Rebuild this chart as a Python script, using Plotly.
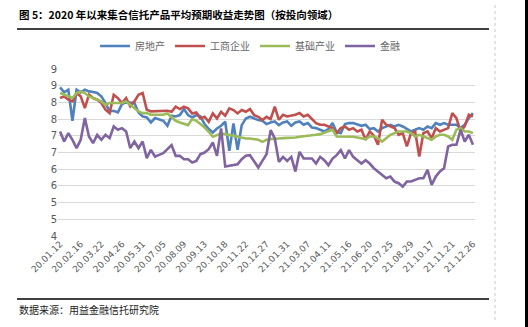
import plotly.graph_objects as go

# ---------------- data ----------------
x_tick_labels = ["20.01.12", "20.02.16", "20.03.22", "20.04.26", "20.05.31", "20.07.05",
                 "20.08.09", "20.09.13", "20.10.18", "20.11.22", "20.12.27", "21.01.31",
                 "21.03.07", "21.04.11", "21.05.16", "21.06.20", "21.07.25", "21.08.29",
                 "21.10.17", "21.11.21", "21.12.26"]
y_tick_values = [4.0, 4.5, 5.0, 5.5, 6.0, 6.5, 7.0, 7.5, 8.0, 8.5, 9.0]
y_tick_labels = ["4", "5", "5", "6", "6", "7", "7", "8", "8", "9", "9"]

real_estate = [8.45, 8.30, 8.38, 7.45, 8.38, 8.30, 8.38, 8.33, 8.31, 8.28,
               8.18, 7.98, 7.73, 7.75, 7.70, 7.95, 8.00, 7.98, 7.98, 7.70,
               7.58, 7.55, 7.40, 7.53, 7.48, 7.45, 7.30, 7.60, 7.58, 7.62,
               7.80, 7.62, 7.55, 7.62, 7.58, 7.35, 7.20, 7.10, 7.22, 7.30,
               7.42, 6.55, 7.37, 6.58, 7.32, 7.52, 7.57, 7.52, 7.47, 7.45,
               7.35, 7.40, 7.43, 7.32, 7.40, 7.43, 7.30, 7.40, 7.43, 7.33,
               7.38, 7.25, 7.23, 7.18, 7.13, 7.20, 7.38, 7.10, 7.08, 7.35,
               7.38, 7.38, 7.33, 7.30, 7.33, 7.20, 7.23, 7.13, 7.23, 7.28,
               7.33, 7.28, 7.33, 7.28, 7.20, 7.13, 7.18, 7.23, 7.18, 7.28,
               7.23, 7.38, 7.33, 7.38, 7.33, 7.33, 7.33, 7.23, 7.33, 7.53,
               7.68]
industry = [8.13, 8.18, 8.08, 8.03, 8.28, 8.18, 7.83, 8.23, 8.13, 8.08,
            7.98, 7.78, 7.68, 8.23, 8.13, 7.98, 8.13, 7.88, 8.03, 8.23,
            8.28, 7.78, 7.73, 7.73, 7.73, 7.73, 7.75, 7.72, 7.87, 7.80,
            7.87, 7.82, 7.67, 7.70, 7.52, 7.57, 7.42, 7.67, 7.52, 7.72,
            7.60, 7.82, 7.77, 7.67, 7.77, 7.72, 7.80, 7.62, 7.57, 7.47,
            7.57, 7.50, 7.87, 7.48, 7.63, 7.58, 7.60, 7.63, 7.68, 7.58,
            7.63, 7.50, 7.38, 7.33, 7.33, 7.28, 7.23, 7.08, 7.23, 7.28,
            7.18, 7.23, 7.13, 7.18, 6.88, 7.13, 7.00, 6.73, 7.48, 7.33,
            7.28, 7.23, 7.03, 7.08, 6.68, 7.08, 7.13, 6.38, 7.08, 7.13,
            6.93, 7.23, 7.13, 7.18, 7.23, 7.68, 7.53, 7.13, 7.28, 7.63,
            7.58]
infrastructure = [8.28, 8.23, 8.18, 8.13, 8.28, 8.33, 8.28, 8.18, 8.13, 8.08,
                  8.03, 7.93, 7.98, 7.98, 7.98, 7.98, 8.03, 7.93, 7.83, 7.73,
                  7.68, 7.68, 7.63, 7.63, 7.63, 7.63, 7.67, 7.55, 7.45, 7.40,
                  7.35, 7.32, 7.50, 7.45, 7.35, 7.25, 7.12, 6.97, 7.02, 7.07,
                  7.05, 7.02, 7.00, 6.97, 6.95, 6.92, 6.92, 6.89, 6.88, 6.82,
                  6.88, 6.90, 6.92, 6.92, 6.93, 6.93, 6.94, 6.95, 6.97, 6.98,
                  7.00, 7.02, 7.03, 7.05, 7.10, 7.15, 7.18, 6.98, 6.98, 6.97,
                  6.97, 6.97, 6.95, 6.93, 6.90, 6.98, 6.98, 6.93, 6.83, 6.93,
                  7.03, 7.08, 7.13, 7.13, 7.13, 7.08, 6.98, 7.03, 6.98, 6.93,
                  6.88, 6.98, 7.03, 7.03, 6.98, 6.88, 7.18, 7.23, 7.13, 7.13,
                  7.08]
finance = [7.13, 6.83, 7.08, 6.88, 6.63, 6.88, 7.53, 6.98, 6.78, 7.03,
           6.88, 7.03, 6.93, 7.28, 7.18, 7.23, 7.13, 6.63, 6.83, 6.63,
           6.83, 6.33, 6.58, 6.38, 6.43, 6.48, 6.60, 6.72, 6.40, 6.40,
           6.30, 6.30, 6.20, 6.25, 6.45, 6.50, 6.60, 6.80, 6.40, 7.22,
           6.08, 6.10, 6.12, 6.15, 6.30, 6.40, 6.42, 6.22, 6.05, 6.25,
           6.45, 7.17, 6.92, 6.22, 6.37, 6.25, 6.37, 5.93, 6.52, 6.32,
           6.32, 6.32, 6.17, 6.37, 6.27, 6.12, 6.32, 6.42, 6.57, 6.32,
           6.57, 6.37, 6.27, 6.17, 6.27, 6.17, 6.03, 5.93, 5.83, 5.73,
           5.78, 5.63, 5.58, 5.48, 5.63, 5.63, 5.68, 5.73, 5.73, 5.98,
           5.53, 5.78, 5.93, 6.03, 6.68, 6.73, 6.73, 7.18, 6.83, 7.03,
           6.73]

series_names = ["房地产", "工商企业", "基础产业", "金融"]
series_values = [real_estate, industry, infrastructure, finance]
series_colors = ["#4F81BD", "#C0504D", "#9BBB59", "#8064A2"]

# ---------------- figure ----------------
W, H = 528, 327
PL, PR, PT, PB = 58, 475, 69, 236  # plot area in pixels


def px(xp):
    return (xp - PL) / (PR - PL)


def py(yp):
    return (PB - yp) / (PB - PT)


n = len(real_estate)
x_idx = list(range(n))

fig = go.Figure()
for name, vals, col in zip(series_names, series_values, series_colors):
    fig.add_trace(go.Scatter(x=x_idx, y=vals, mode="lines", name=name,
                             line=dict(color=col, width=2.6)))

fig.update_layout(
    width=W, height=H,
    margin=dict(l=PL, r=W - PR, t=PT, b=H - PB),
    paper_bgcolor="white", plot_bgcolor="white",
    font=dict(family="Noto Sans CJK SC, Noto Sans, sans-serif", color="#595959"),
    showlegend=True,
    legend=dict(orientation="h", x=px(250), xanchor="center", y=py(46), yanchor="middle",
                font=dict(size=10, color="#666666"), itemwidth=30, tracegroupgap=0,
                bgcolor="rgba(0,0,0,0)"),
    xaxis=dict(range=[-0.5, n - 0.5], tickmode="array",
               tickvals=[i * 5 for i in range(len(x_tick_labels))],
               ticktext=x_tick_labels, tickangle=-45, showgrid=False, zeroline=False,
               showline=False, ticks="", tickfont=dict(size=9, color="#595959",
                                                       family="DejaVu Sans, sans-serif")),
    yaxis=dict(range=[4, 9], tickmode="array", tickvals=y_tick_values, ticktext=y_tick_labels,
               showgrid=True, gridcolor="#D9D9D9", gridwidth=1, zeroline=False,
               showline=False, ticks="", tickfont=dict(size=10, color="#595959",
                                                       family="DejaVu Sans, sans-serif")),
)

# title and source text
fig.add_annotation(xref="paper", yref="paper", x=px(17), y=py(15), xanchor="left", yanchor="middle",
                   text="<b>图 5：2020 年以来集合信托产品平均预期收益走势图（按投向领域）</b>",
                   showarrow=False, font=dict(size=10.5, color="#000000",
                                              family="Noto Sans CJK SC"))
fig.add_annotation(xref="paper", yref="paper", x=px(17), y=py(309), xanchor="left", yanchor="middle",
                   text="数据来源：用益金融信托研究院", showarrow=False,
                   font=dict(size=10, color="#222222", family="Noto Sans CJK SC"))

# decorative rules
fig.add_shape(type="line", xref="paper", yref="paper", x0=px(17), x1=px(489), y0=py(29), y1=py(29),
              line=dict(color="#000000", width=1.5))
fig.add_shape(type="line", xref="paper", yref="paper", x0=px(17), x1=px(489), y0=py(299), y1=py(299),
              line=dict(color="#000000", width=1.5))
fig.add_shape(type="line", xref="paper", yref="paper", x0=px(495), x1=px(495), y0=py(5), y1=py(322),
              line=dict(color="#C8C8C8", width=1, dash="dot"))
fig.add_shape(type="rect", xref="paper", yref="paper", x0=px(525), x1=px(529), y0=py(-2), y1=py(330),
              line=dict(width=0), fillcolor="#000000")

fig.write_html("out.html")
